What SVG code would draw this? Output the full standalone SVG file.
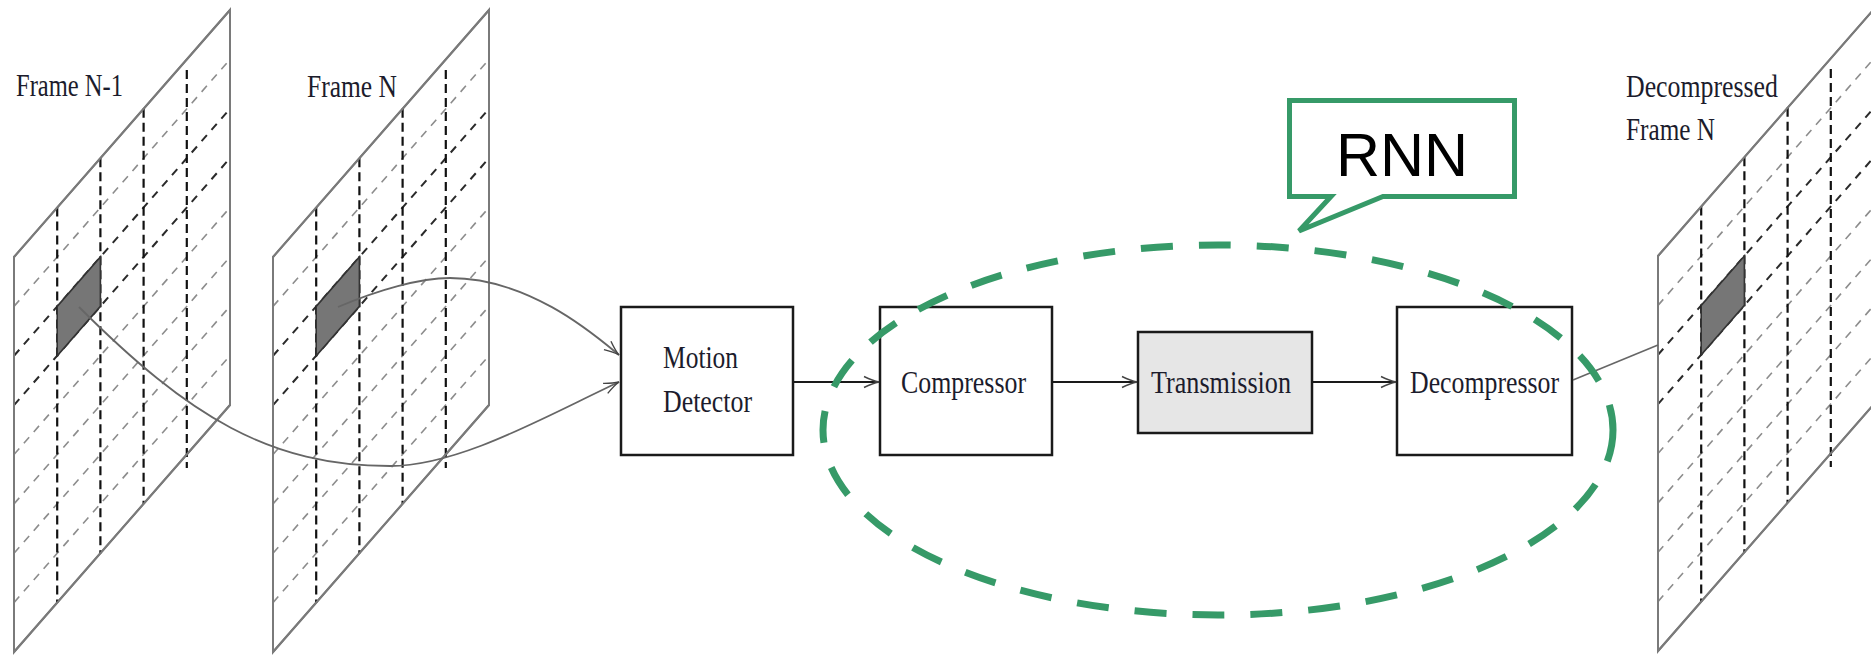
<svg xmlns="http://www.w3.org/2000/svg" width="1871" height="655" viewBox="0 0 1871 655">
<style>
.bg{fill:#ffffff}
.edge{fill:#ffffff;stroke:#7a7a7a;stroke-width:2}
.vdash{stroke:#111;stroke-width:2.2;stroke-dasharray:9 5;fill:none}
.gdash{stroke:#8c8c8c;stroke-width:1.6;stroke-dasharray:8 7;fill:none}
.ddash{stroke:#2a2a2a;stroke-width:2;stroke-dasharray:8 7;fill:none}
.cell{fill:#767676;stroke:#333;stroke-width:1.6}
.lbl{font-family:"Liberation Serif","Times New Roman",serif;font-size:31px;fill:#1c1c2c}
.box{fill:#ffffff;stroke:#1a1a1a;stroke-width:2.5}
.boxg{fill:#e6e6e6;stroke:#1a1a1a;stroke-width:2.5}
.link{stroke:#1a1a1a;stroke-width:2.2;fill:none;marker-end:url(#arr)}
.curve{stroke:#666;stroke-width:1.8;fill:none;marker-end:url(#arr)}
.green{stroke:#369a68;stroke-width:7;fill:none}
</style>
<defs>
<marker id="arr" markerUnits="userSpaceOnUse" markerWidth="20" markerHeight="14" viewBox="-16 -7 18 14" refX="0" refY="0" orient="auto" overflow="visible">
<path d="M-15,-5.5 Q-6,-1.2 0,0 Q-6,1.2 -15,5.5" fill="none" stroke="#444" stroke-width="1.4"/>
</marker>
<g id="grid">
<path class="edge" d="M0,0 L216,-247 L216,148 L0,395 Z"/>
<path class="gdash" d="M0,49.4 L216,-197.6 M0,197.5 L216,-49.5 M0,246.9 L216,-0.1 M0,296.25 L216,49.25 M0,345.6 L216,98.6"/>
<path class="ddash" d="M0,98.75 L216,-148.25 M0,148.1 L216,-98.9"/>
<path class="vdash" d="M43.2,-49.4 V345.6 M86.4,-98.8 V296.2 M129.6,-148.2 V246.8 M172.8,-187 V211"/>
<path class="cell" d="M43.2,49.4 L86.4,0 L86.4,49.4 L43.2,98.8 Z"/>
<path d="M0,0 L216,-247 L216,148 L0,395 Z" fill="none" stroke="#7a7a7a" stroke-width="2"/>
</g>
</defs>
<rect class="bg" x="0" y="0" width="1871" height="655"/>

<g id="frame-n-1">
<use href="#grid" transform="translate(14,257)"/>
<text class="lbl" x="16" y="96" textLength="107" lengthAdjust="spacingAndGlyphs">Frame N-1</text>
</g>

<g id="frame-n">
<use href="#grid" transform="translate(273,257)"/>
<text class="lbl" x="307" y="97" textLength="90" lengthAdjust="spacingAndGlyphs">Frame N</text>
</g>

<g id="decompressed-frame-n">
<use href="#grid" transform="translate(1658,256)"/>
<text class="lbl" x="1626" y="97" textLength="152" lengthAdjust="spacingAndGlyphs">Decompressed</text>
<text class="lbl" x="1626" y="140" textLength="89" lengthAdjust="spacingAndGlyphs">Frame N</text>
</g>

<g id="motion-detector">
<rect class="box" x="621" y="307" width="172" height="148"/>
<text class="lbl" x="663" y="368" textLength="75" lengthAdjust="spacingAndGlyphs">Motion</text>
<text class="lbl" x="663" y="412" textLength="89" lengthAdjust="spacingAndGlyphs">Detector</text>
</g>

<g id="compressor">
<rect class="box" x="880" y="307" width="172" height="148"/>
<text class="lbl" x="901" y="393" textLength="125" lengthAdjust="spacingAndGlyphs">Compressor</text>
</g>

<g id="transmission">
<rect class="boxg" x="1138" y="332" width="174" height="101"/>
<text class="lbl" x="1151" y="393" textLength="140" lengthAdjust="spacingAndGlyphs">Transmission</text>
</g>

<g id="decompressor">
<rect class="box" x="1397" y="307" width="175" height="148"/>
<text class="lbl" x="1410" y="393" textLength="149" lengthAdjust="spacingAndGlyphs">Decompressor</text>
</g>

<g id="connectors">
<path class="curve" d="M79,307 C189,417 270,466 390,466 C460,466 546.5,415.8 619,382"/>
<path class="curve" d="M338,307 C378,290 420,278 450,278 C530,278 596,336 619,355"/>
<path class="link" d="M793,382 H879"/>
<path class="link" d="M1052,382 H1137"/>
<path class="link" d="M1312,382 H1396"/>
<path d="M1573,380 L1658,345" stroke="#666" stroke-width="1.6" fill="none"/>
</g>

<g id="rnn-group">
<ellipse class="green" cx="1218" cy="430" rx="395" ry="185" stroke-dasharray="32 26"/>
</g>

<g id="rnn-callout">
<path d="M1289.5,100.5 H1514.5 V196.5 H1383 L1299,231 L1331,196.5 H1289.5 Z" fill="#ffffff" stroke="#369a68" stroke-width="5" stroke-linejoin="miter"/>
<text x="1402" y="176" text-anchor="middle" font-family="'Liberation Sans',Arial,sans-serif" font-size="61" fill="#000">RNN</text>
</g>
</svg>
